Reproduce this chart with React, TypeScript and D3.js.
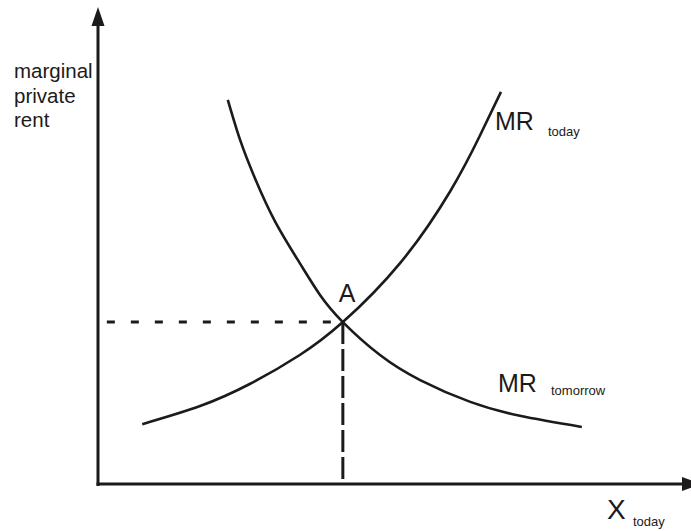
import React, { useEffect, useRef } from 'react';
import * as d3 from 'd3';

// curve readings, in chart units (x: quantity today, y: marginal private rent)
const mrTodayX = [7.5, 17.3, 25.8, 34.2, 41.5, 51.2, 59.7, 64.7, 68.3];
const mrTodayY = [12.9, 16.8, 21.6, 27.8, 34.9, 47.6, 63.1, 75.0, 84.5];
const mrTomorrowX = [22.0, 24.1, 26.6, 30.0, 34.2, 37.6, 41.5, 47.8, 54.6, 63.1, 71.5, 82.0];
const mrTomorrowY = [82.8, 74.1, 65.9, 56.6, 47.6, 40.8, 34.9, 27.8, 22.4, 17.7, 14.7, 12.3];
const pointA = { x: 41.5, y: 34.9, label: 'A' };
const yLabelLines = ['marginal', 'private', 'rent'];

const W = 691;
const H = 531;
const INK = '#1c1a1a';
const FONT = 'Liberation Sans, Arial, sans-serif';

function App() {
  const ref = useRef<SVGSVGElement | null>(null);

  useEffect(() => {
    const svg = d3.select(ref.current);
    svg.selectAll('*').remove();

    const x0 = 98, y0 = 484;
    const xScale = d3.scaleLinear().domain([0, 100]).range([x0, 688]);
    const yScale = d3.scaleLinear().domain([0, 100]).range([y0, 20]);

    // axes
    svg.append('line')
      .attr('x1', x0).attr('x2', x0).attr('y1', 24).attr('y2', y0 + 2)
      .attr('stroke', INK).attr('stroke-width', 3);
    svg.append('path')
      .attr('d', `M${x0 - 6.5},26 L${x0},7 L${x0 + 6.5},26 Z`)
      .attr('fill', INK);
    svg.append('line')
      .attr('x1', x0 - 1.5).attr('x2', 684).attr('y1', y0).attr('y2', y0)
      .attr('stroke', INK).attr('stroke-width', 3);
    svg.append('path')
      .attr('d', `M682,${y0 - 7} L702,${y0} L682,${y0 + 7} Z`)
      .attr('fill', INK);

    // dashed guides to A
    svg.append('line')
      .attr('x1', xScale(1.5)).attr('x2', xScale(pointA.x))
      .attr('y1', yScale(pointA.y)).attr('y2', yScale(pointA.y))
      .attr('stroke', INK).attr('stroke-width', 3)
      .attr('stroke-dasharray', '8,16');
    svg.append('line')
      .attr('x1', xScale(pointA.x)).attr('x2', xScale(pointA.x))
      .attr('y1', yScale(pointA.y)).attr('y2', y0 - 4)
      .attr('stroke', INK).attr('stroke-width', 3)
      .attr('stroke-dasharray', '22,5');

    // curves
    const line = d3.line<[number, number]>()
      .x(d => xScale(d[0]))
      .y(d => yScale(d[1]))
      .curve(d3.curveNatural);

    const today = mrTodayX.map((v, i) => [v, mrTodayY[i]] as [number, number]);
    const tomorrow = mrTomorrowX.map((v, i) => [v, mrTomorrowY[i]] as [number, number]);

    svg.append('path').attr('d', line(today))
      .attr('fill', 'none').attr('stroke', INK).attr('stroke-width', 2.6);
    svg.append('path').attr('d', line(tomorrow))
      .attr('fill', 'none').attr('stroke', INK).attr('stroke-width', 2.6);

    // labels
    const yl = svg.append('text')
      .attr('font-family', FONT).attr('font-size', 20.5).attr('fill', INK);
    yLabelLines.forEach((t, i) => {
      yl.append('tspan').attr('x', 14).attr('y', 78 + i * 24.5).text(t);
    });

    svg.append('text')
      .attr('x', xScale(pointA.x) - 4).attr('y', yScale(pointA.y) - 20)
      .attr('font-family', FONT).attr('font-size', 25).attr('fill', INK)
      .text(pointA.label);

    const subLabel = (x: number, y: number, big: string, bigSize: number, small: string, dx: number, dy: number) => {
      svg.append('text')
        .attr('x', x).attr('y', y)
        .attr('font-family', FONT).attr('font-size', bigSize).attr('fill', INK)
        .text(big);
      svg.append('text')
        .attr('x', x + dx).attr('y', y + dy)
        .attr('font-family', FONT).attr('font-size', 13).attr('fill', INK)
        .text(small);
    };
    subLabel(495, 130, 'MR', 25, 'today', 53, 6);
    subLabel(498, 392, 'MR', 25, 'tomorrow', 53, 3);
    subLabel(607, 519, 'X', 28, 'today', 26, 7);
  }, []);

  return (
    <svg
      ref={ref}
      width={W}
      height={H}
      style={{ position: 'absolute', left: 0, top: 0, background: '#fff' }}
    />
  );
}

export default App;
